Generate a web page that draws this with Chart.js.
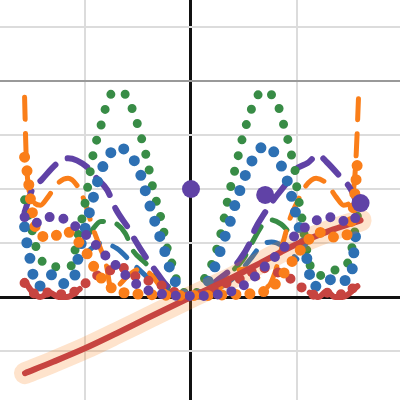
<!DOCTYPE html>
<html>
<head>
<meta charset="utf-8">
<script src="https://cdn.jsdelivr.net/npm/chart.js@4"></script>
<style>
  body { margin: 0; background: #fff; }
  #plot { display: block; }
</style>
</head>
<body>
<canvas id="plot" width="400" height="400"></canvas>
<script>
// curve samples
const greenX = [-1.57, -1.5, -1.45, -1.34, -1.25, -1.14, -1.08, -1.05, -1.02, -0.97, -0.92, -0.84, -0.8, -0.73, -0.61, -0.55, -0.5, -0.46, -0.42, -0.36, -0.28, -0.22, -0.17, -0.13, -0.085, -0.03, 0,
  0.06, 0.13, 0.21, 0.29, 0.35, 0.42, 0.49, 0.54, 0.585, 0.67, 0.78, 0.84, 0.88, 0.92, 0.955, 0.985, 1.0, 1.04, 1.08, 1.14, 1.22, 1.3, 1.41, 1.5, 1.57];
const greenY = [1.8, 1.24, 0.85, 0.56, 0.56, 0.56, 1.0, 1.3, 1.52, 2.09, 2.67, 3.24, 3.54, 3.8, 3.74, 3.46, 3.17, 2.89, 2.59, 2.02, 1.43, 0.87, 0.56, 0.28, 0.13, 0.02, 0,
  0.1, 0.35, 0.68, 1.24, 1.83, 2.4, 2.98, 3.3, 3.55, 3.81, 3.7, 3.44, 3.15, 2.87, 2.57, 2.3, 2.0, 1.55, 1.0, 0.5, 0.4, 0.5, 0.5, 0.75, 1.5];

const blueX = [-1.57, -1.55, -1.52, -1.49, -1.44, -1.38, -1.3, -1.2, -1.11, -1.08, -1.05, -0.98, -0.94, -0.9, -0.86, -0.79, -0.7, -0.58, -0.5, -0.45, -0.41, -0.36, -0.32, -0.26, -0.23, -0.17, -0.13, -0.06, 0,
  0.085, 0.14, 0.21, 0.26, 0.31, 0.36, 0.4, 0.45, 0.5, 0.56, 0.63, 0.7, 0.76, 0.84, 0.9, 0.94, 1.01, 1.09, 1.15, 1.26, 1.38, 1.47, 1.52, 1.55, 1.57];
const blueY = [1.3, 1.02, 0.72, 0.41, 0.19, 0.3, 0.42, 0.25, 0.31, 0.56, 0.87, 1.41, 1.7, 2.0, 2.28, 2.56, 2.78, 2.65, 2.39, 2.11, 1.81, 1.54, 1.24, 0.96, 0.69, 0.41, 0.19, 0.04, 0,
  0.07, 0.22, 0.48, 0.76, 1.06, 1.33, 1.61, 1.91, 2.19, 2.46, 2.7, 2.8, 2.74, 2.48, 2.2, 1.93, 1.37, 0.74, 0.19, 0.26, 0.37, 0.3, 0.5, 1.09, 1.24];

const orangeDashX = [-1.57, -1.555, -1.53, -1.48, -1.42, -1.35, -1.26, -1.16, -1.07, -1.0, -0.93, -0.86, -0.8, -0.75, -0.68, -0.6, -0.48, -0.38, -0.28, -0.18, 0,
  0.18, 0.28, 0.38, 0.52, 0.62, 0.72, 0.79, 0.88, 0.93, 1.0, 1.08, 1.18, 1.28, 1.37, 1.44, 1.5, 1.54, 1.56, 1.58];
const orangeDashY = [3.7, 2.6, 2.0, 1.75, 1.7, 1.85, 2.1, 2.2, 2.05, 1.75, 1.3, 0.93, 0.6, 0.12, 0.22, 0.38, 0.52, 0.42, 0.18, 0.06, 0,
  0.06, 0.18, 0.42, 0.52, 0.38, 0.19, 0.44, 1.09, 1.43, 1.75, 2.05, 2.2, 2.1, 1.85, 1.7, 1.75, 2.1, 2.7, 3.67];

const purpleDashX = [-1.57, -1.5, -1.41, -1.26, -1.16, -0.97, -0.89, -0.79, -0.71, -0.58, -0.53, -0.41, -0.34, -0.22, -0.1, 0,
  0.1, 0.23, 0.37, 0.46, 0.56, 0.6, 0.7, 0.79, 0.91, 0.98, 1.1, 1.2, 1.28, 1.42, 1.5, 1.55, 1.57];
const purpleDashY = [1.57, 1.98, 2.17, 2.48, 2.57, 2.39, 2.2, 1.98, 1.63, 1.24, 1.06, 0.69, 0.5, 0.19, 0.04, 0,
  0.04, 0.28, 0.5, 0.69, 1.02, 1.24, 1.57, 1.83, 2.13, 2.35, 2.48, 2.63, 2.5, 2.2, 2.02, 1.8, 1.6];

const orangeDotX = [-1.57, -1.545, -1.5, -1.44, -1.32, -1.18, -1.07, -0.98, -0.91, -0.83, -0.72, -0.6, -0.45, -0.3, -0.15, 0,
  0.15, 0.3, 0.45, 0.6, 0.72, 0.83, 0.91, 1.0, 1.09, 1.2, 1.34, 1.47, 1.52, 1.55, 1.57];
const orangeDotY = [2.59, 2.31, 1.6, 1.15, 1.11, 1.22, 1.04, 0.8, 0.54, 0.31, 0.13, 0.07, 0.05, 0.04, 0.03, 0.03,
  0.03, 0.04, 0.05, 0.07, 0.13, 0.31, 0.54, 0.78, 1.02, 1.2, 1.11, 1.15, 1.5, 2.0, 2.5];

const purpleDotX = [-1.57, -1.47, -1.33, -1.18, -1.06, -0.94, -0.84, -0.73, -0.62, -0.5, -0.36, -0.22, -0.1, 0,
  0.1, 0.22, 0.36, 0.5, 0.62, 0.73, 0.84, 0.94, 1.07, 1.2, 1.36, 1.49, 1.57];
const purpleDotY = [1.48, 1.37, 1.48, 1.43, 1.26, 1.06, 0.83, 0.63, 0.41, 0.22, 0.09, 0.04, 0.02, 0.02,
  0.02, 0.04, 0.09, 0.22, 0.41, 0.63, 0.83, 1.06, 1.28, 1.43, 1.48, 1.37, 1.5];

const redDotX = [-1.57, -1.45, -1.33, -1.17, -1.05, -0.93, -0.81, -0.65, -0.51, -0.37, -0.25, -0.12, 0,
  0.12, 0.25, 0.37, 0.51, 0.65, 0.81, 0.93, 1.05, 1.17, 1.33, 1.45, 1.57];
const redDotY = [0.26, 0.04, 0.09, 0.04, 0.17, 0.35, 0.46, 0.54, 0.37, 0.28, 0.19, 0.06, 0,
  0.06, 0.19, 0.28, 0.37, 0.54, 0.46, 0.35, 0.17, 0.04, 0.09, 0.04, 0.26];

const redWaveX = [-1.57, -1.5, -1.42, -1.33, -1.25, -1.17, -1.05, 0, 1.12, 1.2, 1.28, 1.36, 1.43, 1.57];
const redWaveY = [0.3, 0.1, 0.0, 0.08, 0.0, 0.0, 0.15, null, 0.08, 0.0, 0.1, 0.0, 0.0, 0.2];

const greenDashX = [-0.95, -0.85, -0.75, -0.62, -0.55, -0.43, -0.3, -0.15, 0, 0.15, 0.3, 0.49, 0.58, 0.68, 0.75, 0.85, 0.95];
const greenDashY = [1.2, 1.4, 1.39, 1.18, 0.87, 0.63, 0.35, 0.1, 0, 0.1, 0.35, 0.69, 1.02, 1.35, 1.43, 1.35, 1.15];

const blueDashX = [-1.0, -0.85, -0.7, -0.55, -0.4, -0.2, 0, 0.2, 0.4, 0.56, 0.66, 0.76, 0.86, 1.0];
const blueDashY = [0.8, 1.0, 0.9, 0.62, 0.35, 0.1, 0, 0.1, 0.35, 0.7, 0.95, 1.02, 0.95, 0.7];

const redX = [-1.566, -1.3, -1.0, -0.7, -0.4, 0, 0.4, 0.7, 1.0, 1.3, 1.6];
const redY = [-1.41, -1.2, -0.95, -0.67, -0.38, 0, 0.37, 0.68, 0.98, 1.22, 1.42];

const bigDotX = [0, 0.7, 1.6];
const bigDotY = [2.0, 1.89, 1.74];

const RED = "#c74440", BLUE = "#2d70b3", GREEN = "#388c46", PURPLE = "#6042a6", ORANGE = "#fa7e19";

function pts(xs, ys) {
  return xs.map((x, i) => ({ x: x, y: ys[i] }));
}

function curve(xs, ys, color, width, dash, order) {
  return {
    data: pts(xs, ys),
    showLine: true,
    borderColor: color,
    borderWidth: width,
    borderDash: dash,
    borderCapStyle: "round",
    borderJoinStyle: "round",
    cubicInterpolationMode: "monotone",
    pointRadius: 0,
    pointHoverRadius: 0,
    spanGaps: false,
    order: order
  };
}

function gridColor(ctx) {
  const v = ctx.tick.value;
  if (v === 0) return "#111";
  if (ctx.scale.axis === "y" && v === 4) return "#999";
  return "#dcdcdc";
}
function gridWidth(ctx) {
  return ctx.tick.value === 0 ? 3 : 2;
}

const datasets = [
  { data: pts(bigDotX, bigDotY), showLine: false, pointRadius: 9, pointBackgroundColor: PURPLE, pointBorderWidth: 0, order: 0 },
  curve(purpleDotX, purpleDotY, PURPLE, 10, [0, 14], 1),
  curve(orangeDotX, orangeDotY, ORANGE, 11, [0, 14], 2),
  curve(redDotX, redDotY, RED, 10, [0, 14], 3),
  curve(redWaveX, redWaveY, RED, 6, [], 4),
  curve(redX, redY, RED, 6, [], 5),
  curve(redX, redY, "rgba(250,126,25,0.22)", 22, [], 6),
  curve(blueX, blueY, BLUE, 11, [0, 16], 7),
  curve(greenX, greenY, GREEN, 9, [0, 16], 8),
  curve(purpleDashX, purpleDashY, PURPLE, 6, [22, 14], 9),
  curve(orangeDashX, orangeDashY, ORANGE, 5, [22, 14], 10),
  curve(greenDashX, greenDashY, GREEN, 5, [18, 14], 11),
  curve(blueDashX, blueDashY, BLUE, 5, [18, 14], 12)
];

new Chart(document.getElementById("plot"), {
  type: "scatter",
  data: { datasets: datasets },
  options: {
    responsive: false,
    animation: false,
    layout: { padding: 0, autoPadding: false },
    plugins: { legend: { display: false }, tooltip: { enabled: false } },
    scales: {
      x: {
        type: "linear",
        min: -1.802,
        max: 1.972,
        ticks: { display: false, stepSize: 1, includeBounds: false },
        grid: { color: gridColor, lineWidth: gridWidth, drawTicks: false },
        border: { display: false }
      },
      y: {
        type: "linear",
        min: -1.907,
        max: 5.5,
        ticks: { display: false, stepSize: 1, includeBounds: false },
        grid: { color: gridColor, lineWidth: gridWidth, drawTicks: false },
        border: { display: false }
      }
    }
  }
});
</script>
</body>
</html>
